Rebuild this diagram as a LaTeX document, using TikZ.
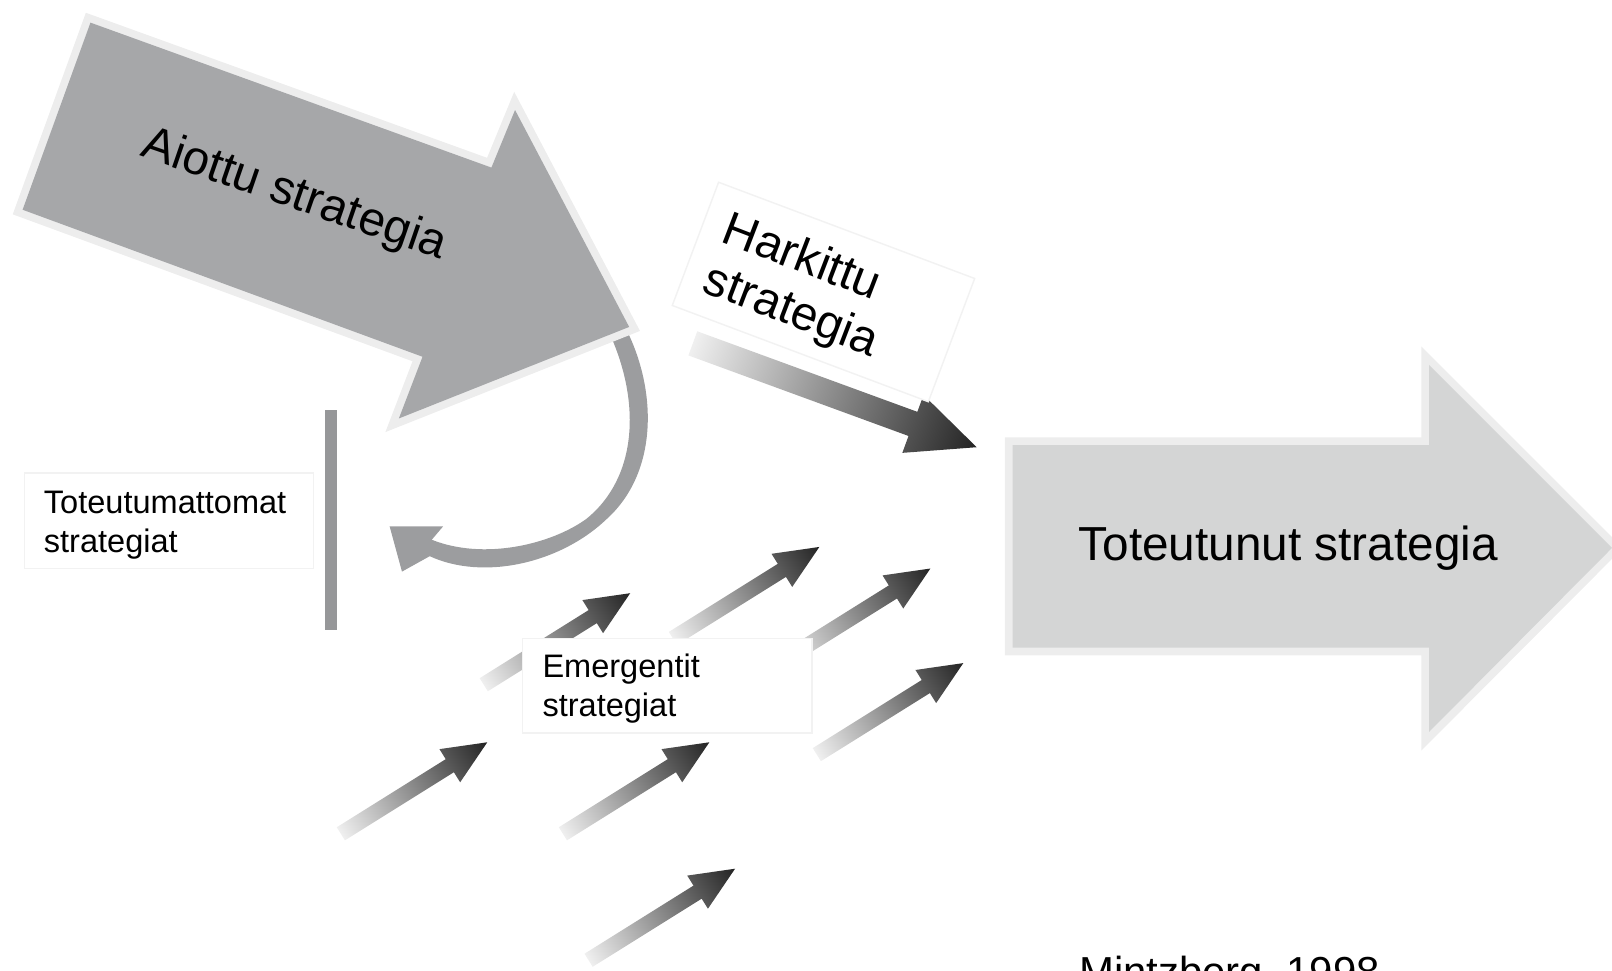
\documentclass[tikz,border=0pt]{standalone}
\usepackage{fontspec}
\setmainfont{Liberation Sans}
\definecolor{intended}{RGB}{166,167,169}
\definecolor{turnback}{RGB}{156,157,159}
\definecolor{realized}{RGB}{212,213,213}
\definecolor{glow}{RGB}{237,237,237}
\definecolor{barcol}{RGB}{150,151,153}

\begin{document}
\begin{tikzpicture}[x=0.01cm,y=-0.01cm,
  big arrow/.style={preaction={draw=glow,line width=1.5mm,line join=miter}},
  grad arrow/.style={left color=black!6,right color=black!86},
  label box/.style={fill=white,draw=black!5,line width=0.4pt},
  big text/.style={font=\fontsize{13.2}{14.8}\selectfont,inner sep=0pt},
  small text/.style={font=\fontsize{9}{10.8}\selectfont,inner sep=0pt,align=left,anchor=base west}]
  \useasboundingbox (0,0) rectangle (1568,944);
  \clip (0,0) rectangle (1568,944);

  % U-turn falling away from the intended strategy
  \fill[turnback] (608,318) .. controls (640,380) and (640,460) .. (590,505)
    .. controls (545,548) and (470,565) .. (418,541) -- (391,556) -- (379,512)
    -- (431,512) -- (420,525) .. controls (470,545) and (535,530) .. (570,505)
    .. controls (620,465) and (625,390) .. (590,318) -- cycle;

  % intended strategy
  \fill[intended,big arrow] (88,22) -- (478,163) -- (501,107) -- (612,318)
    -- (388,407) -- (411,347) -- (22,204) -- cycle;
  \node[big text,rotate=-19,anchor=base] (aiottu) at (282,202) {Aiottu strategia};

  % unrealized
  \draw[barcol,line width=1.15mm] (322,399) -- (322,613);
  \draw[label box] (24,460) rectangle (305,553);
  \node[small text] (toteutumattomat) at (42,537) {Toteutumattomat\\strategiat};

  % realized strategy
  \fill[realized,big arrow] (985,433) -- (1390,433) -- (1390,355) -- (1568,533)
    -- (1390,712) -- (1390,630) -- (985,630) -- cycle;
  \node[big text,anchor=base] (toteutunut) at (1253,545) {Toteutunut strategia};

  % deliberate strategy
  \begin{scope}[transform canvas={shift={(950,435)},rotate=-20.1}]
    \shade[grad arrow] (-294,-12.5) -- (-66,-12.5) -- (-66,-30) -- (0,0)
      -- (-66,30) -- (-66,12.5) -- (-294,12.5) -- cycle;
  \end{scope}
  \node[label box,rotate=-20.6,minimum width=2.66cm,minimum height=1.28cm] (harkbox) at (801,284) {};
  \node[big text,rotate=-21,align=left,anchor=base west] (harkittu) at (681,283) {Harkittu\\strategia};

  % emergent strategies
  \foreach \tx/\ty in {613/577,797/532,905/553,937/645,474/722,690/722,715/845}
  {
    \begin{scope}[transform canvas={shift={(\tx,\ty)},rotate=32}]
      \shade[grad arrow] (-168,-7.5) -- (-43,-7.5) -- (-43,-19) -- (0,0)
        -- (-43,19) -- (-43,7.5) -- (-168,7.5) -- cycle;
    \end{scope}
  }
  \draw[label box] (508,621) rectangle (790,713);
  \node[small text] (emergentit) at (527,697) {Emergentit\\strategiat};

  \node[big text,font=\fontsize{11.6}{13}\selectfont,anchor=base west] (source) at (1049,960) {Mintzberg, 1998};
\end{tikzpicture}
\end{document}
